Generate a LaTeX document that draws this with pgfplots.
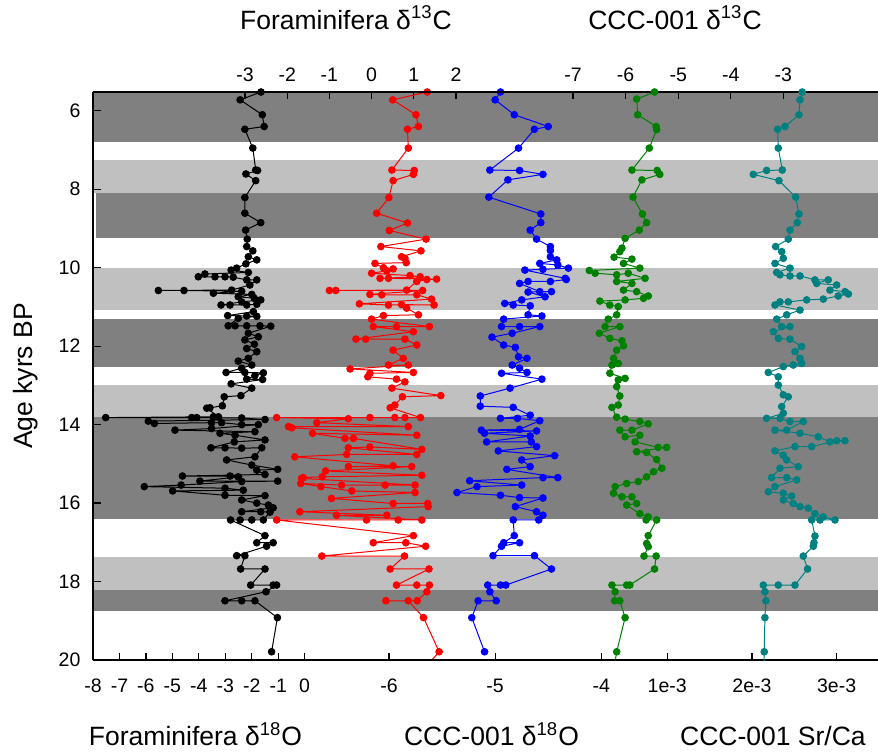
\documentclass[border=0pt]{standalone}
\usepackage{fontspec}
\setmainfont{Liberation Sans}
\usepackage{pgfplots}
\pgfplotsset{compat=1.18}

\definecolor{dkband}{RGB}{128,128,128}
\definecolor{ltband}{RGB}{192,192,192}
\definecolor{cgreen}{RGB}{0,128,0}
\definecolor{cteal}{RGB}{0,128,128}

\pgfplotsset{
  core/.style={
    scale only axis, width=392.5pt, height=284pt,
    at={(0,0)}, anchor=south west,
    y dir=reverse, ymin=5.52, ymax=20,
    tick align=inside, major tick length=3.75pt,
    tick style={black, line width=0.6pt},
    axis line style={black, line width=0.8pt},
    tick label style={font=\fontsize{9.75}{11}\selectfont},
    /pgf/number format/assume math mode=true,
    ytick=\empty,
  },
  series/.style={mark=*, mark size=1.65pt, line width=0.5pt, color=#1},
  botax/.style={core, axis x line*=bottom, axis y line=none,
    xticklabel style={yshift=-6pt}},
  topax/.style={core, axis x line*=top, axis y line=none,
    xticklabel style={yshift=1.7pt}},
}

\begin{document}
\begin{tikzpicture}
% Foraminifera d18O (black) + shaded bands
\begin{axis}[core, axis x line*=bottom, axis y line*=left, axis on top,
    xmin=-8, xmax=21.67, xtick={-8,...,0}, ytick={6,8,...,20},
    xticklabel style={yshift=-6pt}, yticklabel style={xshift=-2.75pt}]
\addplot[fill=dkband, draw=none, forget plot] coordinates {(-9,5.3)(23,5.3)(23,6.79)(-9,6.79)} -- cycle;
\addplot[fill=ltband, draw=none, forget plot] coordinates {(-9,7.25)(23,7.25)(23,8.09)(-9,8.09)} -- cycle;
\addplot[fill=dkband, draw=none, forget plot] coordinates {(-7.89,8.09)(23,8.09)(23,9.24)(-7.89,9.24)} -- cycle;
\addplot[fill=ltband, draw=none, forget plot] coordinates {(-9,10.0)(23,10.0)(23,11.08)(-9,11.08)} -- cycle;
\addplot[fill=dkband, draw=none, forget plot] coordinates {(-9,11.3)(23,11.3)(23,12.53)(-9,12.53)} -- cycle;
\addplot[fill=ltband, draw=none, forget plot] coordinates {(-9,13.0)(23,13.0)(23,13.81)(-9,13.81)} -- cycle;
\addplot[fill=dkband, draw=none, forget plot] coordinates {(-9,13.81)(23,13.81)(23,16.4)(-9,16.4)} -- cycle;
\addplot[fill=ltband, draw=none, forget plot] coordinates {(-9,17.38)(23,17.38)(23,18.22)(-9,18.22)} -- cycle;
\addplot[fill=dkband, draw=none, forget plot] coordinates {(-9,18.22)(23,18.22)(23,18.75)(-9,18.75)} -- cycle;

\addplot[series=black] coordinates {
(-1.65,5.52)(-2.44,5.72)(-1.60,6.10)(-1.53,6.40)(-2.26,6.47)(-1.96,6.95)
(-1.85,7.51)(-1.78,7.52)(-2.22,7.61)(-1.85,7.78)(-2.26,8.21)(-2.26,8.61)
(-1.66,8.85)(-2.23,9.04)(-2.17,9.27)(-2.19,9.46)(-1.96,9.57)(-2.13,9.72)
(-1.81,9.80)(-2.22,9.90)(-2.57,10.01)(-2.78,10.06)(-2.13,10.12)(-3.77,10.16)
(-4.02,10.23)(-3.39,10.23)(-3.01,10.23)(-2.70,10.24)(-2.19,10.31)(-1.81,10.31)
(-2.07,10.44)(-2.76,10.57)(-5.53,10.58)(-4.56,10.58)(-2.38,10.60)(-3.45,10.65)
(-2.00,10.68)(-2.51,10.74)(-1.90,10.78)(-1.66,10.82)(-2.38,10.87)(-3.16,10.95)
(-2.82,10.95)(-2.19,10.95)(-1.81,10.93)(-1.94,11.12)(-2.91,11.22)(-2.19,11.23)
(-1.81,11.24)(-2.51,11.29)(-2.89,11.48)(-2.63,11.48)(-2.19,11.48)(-1.69,11.48)
(-1.28,11.49)(-2.13,11.67)(-1.75,11.76)(-2.26,11.84)(-1.90,11.95)(-2.19,12.06)
(-1.81,12.14)(-2.13,12.31)(-2.51,12.38)(-2.00,12.48)(-2.38,12.56)(-2.97,12.67)
(-2.26,12.67)(-1.56,12.68)(-1.88,12.75)(-2.19,12.84)(-1.59,12.85)(-2.78,12.96)
(-2.00,13.07)(-2.41,13.26)(-3.04,13.29)(-3.11,13.52)(-3.58,13.57)(-3.70,13.58)
(-3.26,13.80)(-3.45,13.80)(-7.52,13.82)(-4.27,13.82)(-4.08,13.82)(-2.38,13.83)
(-1.50,13.87)(-5.91,13.91)(-5.68,13.97)(-3.52,13.95)(-3.14,13.95)(-2.38,14.00)
(-1.75,14.00)(-3.52,14.10)(-4.90,14.14)(-1.88,14.18)(-3.20,14.22)(-2.63,14.27)
(-1.50,14.39)(-2.66,14.44)(-3.54,14.59)(-3.01,14.59)(-2.38,14.60)(-1.62,14.59)
(-1.88,14.82)(-2.95,14.90)(-2.00,15.03)(-1.02,15.14)(-1.81,15.16)(-1.50,15.27)
(-4.62,15.31)(-2.82,15.31)(-2.51,15.33)(-3.96,15.44)(-1.02,15.44)(-2.38,15.45)
(-4.67,15.54)(-6.06,15.58)(-3.01,15.62)(-2.32,15.67)(-4.99,15.69)(-3.01,15.80)
(-1.50,15.81)(-2.38,15.92)(-1.81,16.00)(-1.37,16.05)(-1.19,16.12)(-2.38,16.22)
(-1.66,16.22)(-1.31,16.23)(-1.56,16.43)(-2.00,16.43)(-2.44,16.43)(-2.80,16.43)
(-1.50,16.83)(-1.81,17.01)(-1.19,17.01)(-1.44,17.10)(-2.57,17.34)(-2.26,17.34)
(-2.42,17.68)(-1.50,17.68)(-2.04,18.09)(-1.19,18.09)(-1.06,18.09)(-1.46,18.26)
(-3.01,18.49)(-2.38,18.49)(-1.88,18.49)(-1.03,18.92)(-1.25,19.79)
};
\end{axis}

% Foraminifera d13C (red), top axis
\begin{axis}[topax, xmin=-6.602, xmax=12.0, xtick={-3,...,2}]
\addplot[series=red] coordinates {
(1.32,5.52)(0.50,5.72)(1.05,6.10)(1.11,6.40)(0.85,6.47)(0.87,6.95)
(0.48,7.51)(1.01,7.52)(0.99,7.62)(0.51,7.78)(0.41,8.21)(0.12,8.61)
(0.85,8.86)(0.42,9.05)(1.29,9.27)(0.22,9.46)(1.17,9.57)(0.71,9.72)
(0.79,9.76)(0.82,9.87)(0.08,9.89)(0.28,10.00)(0.51,10.03)(0.36,10.08)
(0.00,10.14)(0.91,10.20)(1.15,10.23)(0.20,10.27)(0.40,10.27)(1.54,10.29)
(1.31,10.30)(1.07,10.35)(0.83,10.57)(-1.00,10.58)(-0.85,10.58)(1.21,10.58)
(-0.04,10.68)(0.24,10.69)(1.07,10.69)(1.42,10.80)(-0.29,10.92)(0.40,10.95)
(1.48,10.95)(0.71,10.94)(0.83,11.03)(1.11,11.20)(0.28,11.22)(0.00,11.31)
(1.37,11.50)(0.59,11.50)(0.04,11.50)(0.99,11.63)(-0.37,11.82)(-0.14,11.82)
(0.79,11.82)(1.07,11.97)(0.51,12.10)(0.75,12.31)(0.40,12.48)(0.87,12.48)
(-0.51,12.58)(0.99,12.67)(-0.04,12.69)(-0.09,12.78)(0.59,12.84)(0.79,12.91)
(0.48,13.07)(1.64,13.26)(0.73,13.29)(0.55,13.50)(0.44,13.57)(1.16,13.82)
(0.79,13.82)(0.55,13.82)(-0.04,13.82)(-2.25,13.82)(-0.55,13.85)(-1.30,13.95)
(0.87,14.05)(-1.97,14.05)(-1.89,14.08)(1.07,14.27)(-1.40,14.22)(-0.63,14.35)
(-0.43,14.35)(1.19,14.63)(-0.04,14.57)(-0.55,14.59)(1.07,14.76)(-0.59,14.76)
(-1.82,14.82)(0.51,15.05)(-0.55,15.07)(0.95,15.07)(-1.09,15.18)(1.19,15.29)
(-1.17,15.33)(-1.62,15.35)(-1.66,15.37)(1.03,15.54)(0.32,15.54)(-0.71,15.54)
(-1.68,15.50)(-1.20,15.58)(-0.47,15.69)(1.03,15.73)(-0.95,15.88)(0.51,16.01)
(1.33,16.01)(1.34,16.09)(-1.70,16.22)(0.36,16.31)(-0.83,16.31)(1.19,16.43)
(0.63,16.43)(-0.12,16.43)(-2.25,16.43)(0.99,16.83)(0.04,17.01)(0.81,17.01)
(1.28,17.10)(-1.18,17.35)(0.78,17.35)(0.44,17.68)(1.36,17.68)(0.59,18.09)
(1.07,18.09)(1.37,18.09)(1.31,18.26)(1.08,18.49)(0.34,18.49)(0.87,18.49)
(1.23,18.92)(1.60,19.79)(1.27,20.20)
};
\end{axis}

% CCC-001 d18O (blue), bottom axis
\begin{axis}[botax, xmin=-8.787, xmax=-1.395, xtick={-6,-5,-4}]
\addplot[series=blue] coordinates {
(-4.95,5.52)(-5.00,5.72)(-4.82,6.10)(-4.50,6.40)(-4.63,6.47)(-4.78,6.95)
(-5.05,7.51)(-4.77,7.52)(-4.55,7.62)(-4.88,7.76)(-5.06,8.20)(-4.57,8.63)
(-4.57,8.85)(-4.67,9.04)(-4.61,9.27)(-4.48,9.46)(-4.48,9.56)(-4.48,9.72)
(-4.42,9.80)(-4.58,9.89)(-4.41,9.93)(-4.31,10.01)(-4.55,10.04)(-4.72,10.06)
(-4.34,10.27)(-4.33,10.30)(-4.48,10.35)(-4.69,10.35)(-4.77,10.40)(-4.58,10.61)
(-4.47,10.61)(-4.69,10.62)(-4.53,10.74)(-4.75,10.82)(-4.91,10.91)(-4.83,10.95)
(-4.67,10.97)(-4.69,11.20)(-4.56,11.23)(-4.92,11.31)(-4.94,11.50)(-4.77,11.50)
(-4.58,11.50)(-4.84,11.67)(-5.03,11.77)(-4.92,11.97)(-4.81,12.03)(-4.78,12.27)
(-4.70,12.31)(-4.84,12.48)(-4.77,12.56)(-4.70,12.67)(-4.94,12.69)(-4.56,12.84)
(-4.86,13.07)(-5.14,13.27)(-5.14,13.53)(-4.83,13.56)(-4.67,13.76)(-4.95,13.84)
(-4.79,13.84)(-4.58,13.90)(-4.77,14.12)(-5.13,14.14)(-4.61,14.16)(-5.10,14.22)
(-4.67,14.29)(-5.08,14.44)(-4.66,14.44)(-4.61,14.56)(-4.97,14.67)(-4.44,14.79)
(-4.75,14.90)(-4.67,15.07)(-4.89,15.14)(-4.41,15.35)(-4.55,15.35)(-5.24,15.43)
(-4.75,15.54)(-5.17,15.58)(-5.36,15.73)(-4.95,15.80)(-4.77,15.86)(-4.55,15.87)
(-4.81,16.09)(-4.61,16.22)(-4.55,16.31)(-4.59,16.43)(-4.83,16.43)(-4.82,16.83)
(-4.92,17.01)(-4.77,17.01)(-4.94,17.10)(-5.02,17.34)(-4.63,17.34)(-4.47,17.68)
(-4.90,18.09)(-4.95,18.09)(-5.07,18.09)(-5.05,18.26)(-4.99,18.49)(-5.16,18.49)
(-5.22,18.92)(-5.10,19.79)
};
\end{axis}

% CCC-001 d13C (green), top axis
\begin{axis}[topax, xmin=-16.13, xmax=-1.20, xtick={-7,...,-3}]
\addplot[series=cgreen] coordinates {
(-5.45,5.52)(-5.79,5.70)(-5.77,6.10)(-5.42,6.40)(-5.41,6.48)(-5.55,6.95)
(-5.88,7.51)(-5.40,7.52)(-5.35,7.62)(-5.69,7.76)(-5.86,8.20)(-5.68,8.63)
(-5.60,8.85)(-5.74,9.04)(-6.01,9.25)(-6.07,9.50)(-6.11,9.59)(-6.22,9.73)
(-5.88,9.78)(-6.04,9.89)(-5.73,10.01)(-6.69,10.07)(-6.58,10.14)(-6.17,10.18)
(-5.95,10.14)(-5.63,10.27)(-6.17,10.35)(-5.88,10.40)(-6.04,10.57)(-5.79,10.61)
(-5.57,10.72)(-5.66,10.78)(-6.01,10.82)(-6.49,10.85)(-6.30,10.95)(-6.14,10.99)
(-6.17,11.20)(-6.33,11.31)(-6.39,11.50)(-6.11,11.50)(-6.50,11.67)(-6.30,11.80)
(-6.07,11.86)(-6.04,11.99)(-6.17,12.10)(-6.23,12.31)(-6.14,12.44)(-6.26,12.48)
(-6.30,12.69)(-6.01,12.82)(-6.14,12.86)(-6.17,13.03)(-6.11,13.27)(-6.14,13.50)
(-6.26,13.56)(-6.17,13.81)(-6.01,13.86)(-5.73,13.92)(-5.57,13.98)(-5.88,14.14)
(-6.11,14.14)(-6.01,14.31)(-5.73,14.27)(-5.82,14.44)(-5.38,14.58)(-5.22,14.58)
(-5.79,14.69)(-5.60,14.71)(-5.41,14.89)(-5.31,15.11)(-5.47,15.20)(-5.60,15.33)
(-5.76,15.45)(-5.98,15.50)(-6.20,15.58)(-6.23,15.75)(-6.07,15.84)(-5.88,15.84)
(-5.79,16.01)(-5.98,16.05)(-5.73,16.27)(-5.57,16.35)(-5.61,16.43)(-5.41,16.43)
(-5.57,16.83)(-5.60,17.03)(-5.57,17.11)(-5.65,17.35)(-5.42,17.35)(-5.45,17.68)
(-5.92,18.09)(-5.98,18.09)(-6.26,18.09)(-6.20,18.26)(-6.21,18.49)(-6.11,18.49)
(-6.01,18.92)(-6.17,19.79)(-6.23,20.30)
};
\end{axis}

% CCC-001 Sr/Ca (teal), bottom axis
\begin{axis}[botax, xmin=-0.00578, xmax=0.003488, scaled x ticks=false,
    xtick={0.001,0.002,0.003}, xticklabels={1e-3,2e-3,3e-3}]
\addplot[series=cteal] coordinates {
(0.002594,5.52)(0.002567,5.72)(0.002555,6.10)(0.002390,6.40)(0.002303,6.47)
(0.002311,6.95)(0.002358,7.51)(0.002173,7.52)(0.002016,7.62)(0.002319,7.78)
(0.002516,8.20)(0.002555,8.63)(0.002535,8.85)(0.002449,9.04)(0.002429,9.27)
(0.002280,9.46)(0.002351,9.59)(0.002370,9.76)(0.002272,9.89)(0.002449,10.01)
(0.002292,10.12)(0.002331,10.18)(0.002449,10.21)(0.002567,10.21)(0.002744,10.31)
(0.002901,10.31)(0.002764,10.40)(0.003000,10.44)(0.002921,10.57)(0.003098,10.61)
(0.003138,10.67)(0.003019,10.72)(0.002842,10.80)(0.002646,10.82)(0.002429,10.87)
(0.002331,10.87)(0.002272,10.95)(0.002567,11.08)(0.002410,11.20)(0.002292,11.31)
(0.002351,11.50)(0.002449,11.50)(0.002252,11.63)(0.002311,11.80)(0.002449,11.82)
(0.002587,12.01)(0.002508,12.14)(0.002567,12.31)(0.002587,12.44)(0.002488,12.48)
(0.002370,12.52)(0.002193,12.67)(0.002311,12.78)(0.002311,12.99)(0.002370,13.24)
(0.002429,13.29)(0.002351,13.54)(0.002370,13.71)(0.002173,13.84)(0.002331,13.84)
(0.002449,13.92)(0.002606,13.92)(0.002410,14.14)(0.002272,14.14)(0.002567,14.22)
(0.002783,14.31)(0.002921,14.44)(0.003098,14.41)(0.003000,14.41)(0.002705,14.56)
(0.002508,14.56)(0.002272,14.67)(0.002370,14.78)(0.002410,14.90)(0.002547,15.07)
(0.002331,15.11)(0.002232,15.35)(0.002410,15.35)(0.002528,15.41)(0.002272,15.58)
(0.002193,15.71)(0.002370,15.75)(0.002469,15.82)(0.002370,15.92)(0.002488,16.01)
(0.002567,16.09)(0.002665,16.13)(0.002744,16.27)(0.002842,16.35)(0.002980,16.43)
(0.002803,16.43)(0.002705,16.43)(0.002744,16.84)(0.002732,17.01)(0.002724,17.10)
(0.002606,17.35)(0.002657,17.68)(0.002508,18.09)(0.002311,18.09)(0.002134,18.09)
(0.002153,18.26)(0.002165,18.49)(0.002153,18.92)(0.002145,19.79)(0.002145,20.30)
};
\end{axis}

% titles
\begin{scope}[every node/.style={font=\fontsize{13.25}{15}\selectfont, anchor=base}]
\node at (51.25pt,-43pt) {Foraminifera δ\textsuperscript{18}O};
\node at (199.25pt,-43pt) {CCC-001 δ\textsuperscript{18}O};
\node at (340pt,-43pt) {CCC-001 Sr/Ca};
\node at (126.5pt,315.35pt) {Foraminifera δ\textsuperscript{13}C};
\node at (291pt,315.35pt) {CCC-001 δ\textsuperscript{13}C};
\node[rotate=90] at (-30pt,142pt) {Age kyrs BP};
\end{scope}

\pgfresetboundingbox
\path[use as bounding box] (-46.5pt,-47pt) rectangle (392.5pt,330pt);
\end{tikzpicture}
\end{document}
